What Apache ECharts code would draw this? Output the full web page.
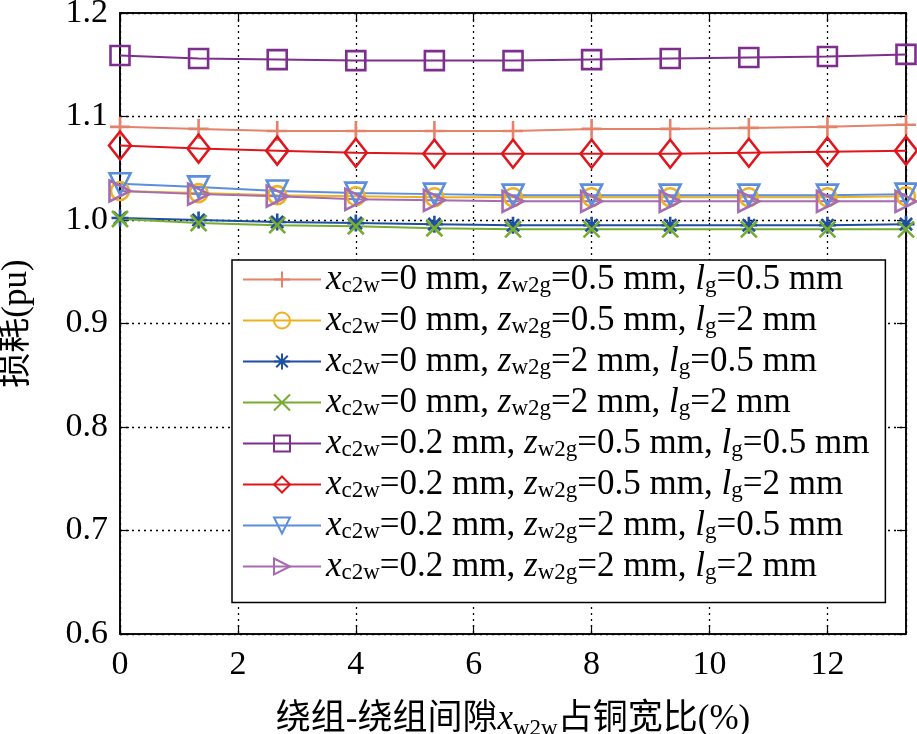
<!DOCTYPE html>
<html>
<head>
<meta charset="utf-8">
<script src="https://cdn.jsdelivr.net/npm/echarts@6/dist/echarts.min.js"></script>
<style>
html,body{margin:0;padding:0;background:#fff;}
#chart{width:917px;height:734px;}
</style>
</head>
<body>
<div id="chart"></div>
<script>
// x: winding-to-winding gap ratio (%)
var xValues = [0, 1.333, 2.667, 4, 5.333, 6.667, 8, 9.333, 10.667, 12, 13.333];
// legend parameters
var xc2w = ['0', '0', '0', '0', '0.2', '0.2', '0.2', '0.2'];
var zw2g = ['0.5', '0.5', '2', '2', '0.5', '0.5', '2', '2'];
var lg   = ['0.5', '2', '0.5', '2', '0.5', '2', '0.5', '2'];
// series values (pu)
var s1 = [1.090, 1.088, 1.086, 1.086, 1.086, 1.086, 1.088, 1.088, 1.089, 1.090, 1.092];
var s2 = [1.028, 1.026, 1.024, 1.023, 1.022, 1.022, 1.022, 1.022, 1.022, 1.022, 1.023];
var s3 = [1.002, 1.000, 0.998, 0.997, 0.996, 0.995, 0.995, 0.995, 0.995, 0.995, 0.996];
var s4 = [1.001, 0.997, 0.995, 0.994, 0.992, 0.991, 0.991, 0.991, 0.991, 0.991, 0.991];
var s5 = [1.159, 1.156, 1.155, 1.154, 1.154, 1.154, 1.155, 1.156, 1.157, 1.158, 1.160];
var s6 = [1.072, 1.069, 1.067, 1.065, 1.064, 1.064, 1.064, 1.064, 1.065, 1.066, 1.067];
var s7 = [1.035, 1.032, 1.028, 1.026, 1.025, 1.024, 1.024, 1.024, 1.024, 1.024, 1.025];
var s8 = [1.028, 1.025, 1.023, 1.020, 1.019, 1.018, 1.018, 1.018, 1.018, 1.018, 1.018];
var seriesValues = [s1, s2, s3, s4, s5, s6, s7, s8];
var yTicks = [0.6, 0.7, 0.8, 0.9, 1.0, 1.1, 1.2];
var xTicks = [0, 2, 4, 6, 8, 10, 12];

var colors = ['#E5826A', '#EDB120', '#1F4FA0', '#77AC30', '#7E2F8E', '#E0161C', '#5B8FDB', '#A66BB0'];
var symbols = [
  'path://M0,-1L0,1M-1,0L1,0',
  'circle',
  'path://M0,-1L0,1M-1,0L1,0M-0.72,-0.72L0.72,0.72M-0.72,0.72L0.72,-0.72',
  'path://M-1,-1L1,1M-1,1L1,-1',
  'rect',
  'diamond',
  'path://M-1,-0.85L1,-0.85L0,1Z',
  'path://M-0.85,-1L1,0L-0.85,1Z'
];
var symSizes = [20, 18, 17, 16, 19, [22, 28], 21, 21];

var FONT = '"Liberation Serif", "Times New Roman", "Noto Sans CJK SC", serif';

function plainName(i) {
  return 'x_c2w=' + xc2w[i] + ' mm, z_w2g=' + zw2g[i] + ' mm, l_g=' + lg[i] + ' mm';
}
var names = xc2w.map(function (_, i) { return plainName(i); });
function richName(name) {
  var i = names.indexOf(name);
  return '{i|x}{s|c2w}{n|=' + xc2w[i] + ' mm, }{i|z}{s|w2g}{n|=' + zw2g[i] + ' mm, }{i|l}{s|g}{n|=' + lg[i] + ' mm}';
}

var series = seriesValues.map(function (vals, i) {
  return {
    name: names[i],
    type: 'line',
    data: vals.map(function (v, k) { return [xValues[k], v]; }),
    symbol: symbols[i],
    symbolSize: symSizes[i],
    showAllSymbol: true,
    color: colors[i],
    lineStyle: { color: colors[i], width: 2 },
    itemStyle: { color: 'rgba(255,255,255,0)', borderColor: colors[i], borderWidth: 2.6 },
    emphasis: { disabled: true },
    animation: false,
    z: 3
  };
});

var richText = {
  n: { fontFamily: FONT, fontSize: 35, color: '#000', lineHeight: 36, verticalAlign: 'middle' },
  i: { fontFamily: FONT, fontSize: 35, fontStyle: 'italic', color: '#000', lineHeight: 36, verticalAlign: 'middle' },
  s: { fontFamily: FONT, fontSize: 23, color: '#000', lineHeight: 16, verticalAlign: 'bottom' }
};

var chart = echarts.init(document.getElementById('chart'), null, { renderer: 'canvas' });
chart.setOption({
  backgroundColor: '#fff',
  animation: false,
  grid: {
    left: 120, right: 11, top: 13, bottom: 100,
    containLabel: false, outerBoundsMode: 'none',
    show: true, borderColor: '#000', borderWidth: 1.5, backgroundColor: 'transparent'
  },
  legend: {
    orient: 'vertical',
    left: 232,
    top: 260,
    data: names,
    selectedMode: false,
    itemWidth: 78,
    itemHeight: 20,
    itemGap: 5.5,
    padding: [2, 16, 18, 10],
    borderColor: '#000',
    borderWidth: 1.5,
    backgroundColor: '#fff',
    formatter: function (name) { return richName(name); },
    textStyle: { fontFamily: FONT, fontSize: 35, color: '#000', rich: richText }
  },
  xAxis: [{
    type: 'value',
    min: 0,
    max: 13.333,
    interval: 2,
    position: 'bottom',
    axisLine: { show: true, onZero: false, lineStyle: { color: '#000', width: 1.5 } },
    axisTick: { show: true, inside: true, length: 9, lineStyle: { color: '#000', width: 1.2 } },
    axisLabel: {
      show: true, margin: 14, color: '#000', fontFamily: FONT, fontSize: 34, showMaxLabel: false,
      formatter: function (v) { return xTicks.indexOf(Math.round(v * 1000) / 1000) >= 0 ? String(v) : ''; }
    },
    splitLine: { show: true, lineStyle: { color: '#000', width: 1.3, type: [2, 4] } },
    name: '绕组-绕组间隙{i|x}{s|w2w}占铜宽比(%)',
    nameLocation: 'middle',
    nameGap: 66,
    nameTextStyle: {
      fontFamily: FONT, fontSize: 35, color: '#000',
      rich: {
        i: { fontFamily: FONT, fontSize: 35, fontStyle: 'italic', color: '#000', lineHeight: 40, verticalAlign: 'middle' },
        s: { fontFamily: FONT, fontSize: 23, color: '#000', lineHeight: 18, verticalAlign: 'bottom' }
      }
    }
  }, {
    type: 'value',
    min: 0,
    max: 13.333,
    interval: 2,
    position: 'top',
    axisLine: { show: true, onZero: false, lineStyle: { color: '#000', width: 1.5 } },
    axisTick: { show: true, inside: true, length: 9, lineStyle: { color: '#000', width: 1.2 } },
    axisLabel: { show: false },
    splitLine: { show: false }
  }],
  yAxis: [{
    type: 'value',
    min: 0.6,
    max: 1.2,
    interval: 0.1,
    position: 'left',
    axisLine: { show: true, onZero: false, lineStyle: { color: '#000', width: 1.5 } },
    axisTick: { show: true, inside: true, length: 9, lineStyle: { color: '#000', width: 1.2 } },
    axisLabel: {
      show: true, margin: 12, color: '#000', fontFamily: FONT, fontSize: 34,
      formatter: function (v) { return v.toFixed(1); }
    },
    splitLine: { show: true, lineStyle: { color: '#000', width: 1.3, type: [2, 4] } },
    name: '损耗(pu)',
    nameLocation: 'middle',
    nameGap: 86,
    nameRotate: 90,
    nameTextStyle: { fontFamily: FONT, fontSize: 35, color: '#000' }
  }, {
    type: 'value',
    min: 0.6,
    max: 1.2,
    interval: 0.1,
    position: 'right',
    axisLine: { show: true, onZero: false, lineStyle: { color: '#000', width: 1.5 } },
    axisTick: { show: true, inside: true, length: 9, lineStyle: { color: '#000', width: 1.2 } },
    axisLabel: { show: false },
    splitLine: { show: false }
  }],
  series: series
});
</script>
</body>
</html>
